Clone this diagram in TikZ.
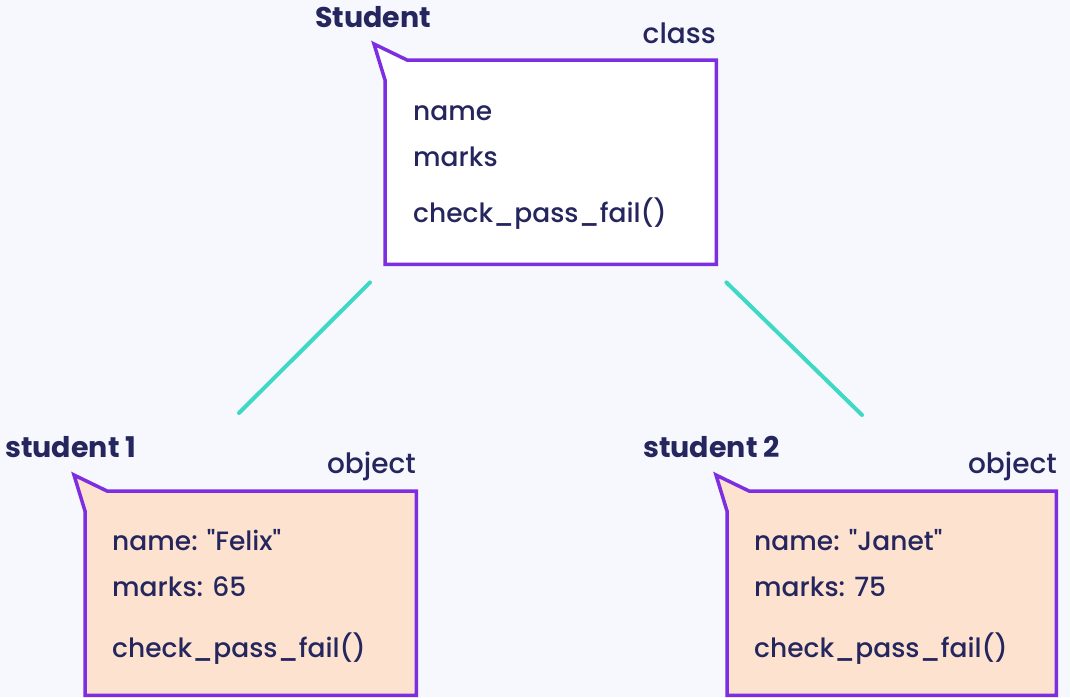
\documentclass[tikz,border=0pt]{standalone}
\usepackage{fontspec}
\setmainfont{Poppins}[Ligatures=TeXOff, UprightFont=* Medium, BoldFont=* Bold]
\usetikzlibrary{calc}

\begin{document}
\begin{tikzpicture}[x=1pt, y=-1pt,
        txt/.style={anchor=base west, inner sep=0pt, text=ink, font=\fontsize{26.5}{30}\selectfont},
        title/.style={txt, font=\fontsize{28.5}{30}\selectfont\bfseries},
        tag/.style={anchor=base east, inner sep=0pt, text=ink, font=\fontsize{28}{30}\selectfont},
        frame/.style={draw=frm, line width=3.5pt, line join=miter},
        slot/.style={inner sep=0pt, minimum height=204pt, anchor=north west},
        link/.style={draw=lnk, line width=4pt, line cap=round}]
        % Define colors
        \definecolor{bg}{RGB}{247, 248, 253}
        \definecolor{ink}{RGB}{37, 38, 94}
        \definecolor{frm}{RGB}{124, 46, 224}
        \definecolor{peach}{RGB}{253, 227, 207}
        \definecolor{lnk}{RGB}{61, 217, 197}

        \fill[bg] (0,0) rectangle (1070,697);
        \useasboundingbox (0,0) rectangle (1070,697);

        % --- CLASS (Student) ---
        \node[slot, minimum width=331pt] (cls) at (385,60) {};
        \draw[frame, fill=white] ($(cls.north west)+(-11,-16)$) -- ($(cls.north west)+(22,0)$)
            -- (cls.north east) -- (cls.south east) -- (cls.south west) -- ($(cls.north west)+(0,20)$) -- cycle;
        \node[title] (clsname) at (315,27) {Student};
        \node[tag] (clstag) at (716,43) {class};
        \node[txt] (clsa) at (413,120) {name};
        \node[txt] (clsb) at (413,166) {marks};
        \node[txt] (clsc) at (413,222) {check\_pass\_fail()};

        % --- OBJECT 1 (student 1) ---
        \node[slot, minimum width=331pt] (obja) at (85,491) {};
        \draw[frame, fill=peach] ($(obja.north west)+(-11,-16)$) -- ($(obja.north west)+(22,0)$)
            -- (obja.north east) -- (obja.south east) -- (obja.south west) -- ($(obja.north west)+(0,20)$) -- cycle;
        \node[title] (objaname) at (5,457) {student 1};
        \node[tag] (objatag) at (416,473) {object};
        \node[txt] (objaa) at (112,550) {name: "Felix"};
        \node[txt] (objab) at (112,596) {marks: 65};
        \node[txt] (objac) at (112,657) {check\_pass\_fail()};

        % --- OBJECT 2 (student 2) ---
        \node[slot, minimum width=329pt] (objb) at (727,491) {};
        \draw[frame, fill=peach] ($(objb.north west)+(-11,-16)$) -- ($(objb.north west)+(22,0)$)
            -- (objb.north east) -- (objb.south east) -- (objb.south west) -- ($(objb.north west)+(0,20)$) -- cycle;
        \node[title] (objbname) at (643,457) {student 2};
        \node[tag] (objbtag) at (1057,473) {object};
        \node[txt] (objba) at (754,550) {name: "Janet"};
        \node[txt] (objbb) at (754,596) {marks: 75};
        \node[txt] (objbc) at (754,657) {check\_pass\_fail()};

        % Links class -> objects
        \coordinate (la) at ($(cls.south west)+(-15,18)$);
        \coordinate (lb) at ($(obja.north west)+(154,-78)$);
        \coordinate (lc) at ($(cls.south east)+(10,18)$);
        \coordinate (ld) at ($(objb.north west)+(135,-76)$);
        \draw[link] (la) -- (lb);
        \draw[link] (lc) -- (ld);

    \end{tikzpicture}
\end{document}
